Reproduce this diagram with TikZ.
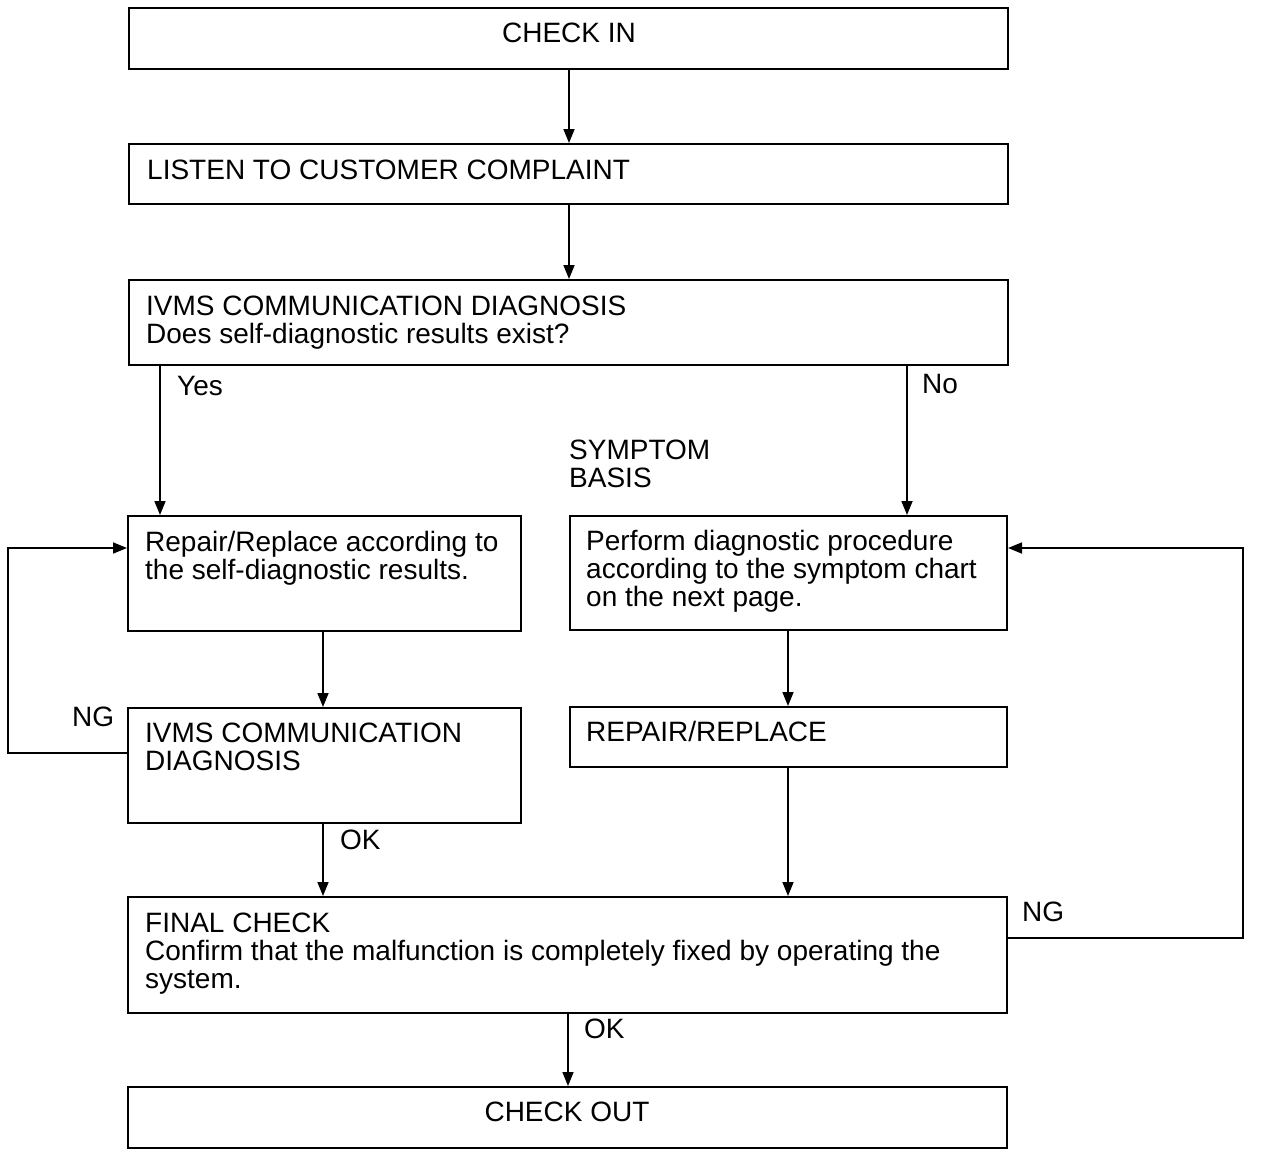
\documentclass[tikz,border=0pt]{standalone}
\usepackage{fontspec}
\setmainfont{Liberation Sans}
\usetikzlibrary{arrows.meta}
\begin{document}
\begin{tikzpicture}[x=1pt,y=-1pt,
  box/.style={draw, line width=2pt, inner sep=0pt, anchor=north west},
  txt/.style={anchor=base west, inner sep=0pt, font=\fontsize{28}{28}\selectfont},
  ctxt/.style={anchor=base, inner sep=0pt, font=\fontsize{28}{28}\selectfont},
  arr/.style={line width=1.7pt, -{Triangle[length=14pt,width=11pt]}},
  ln/.style={line width=1.7pt}]
\useasboundingbox (0,0) rectangle (1264,1156);
% boxes
\node (ci) [box, minimum width=879pt, minimum height=61pt] at (128,7) {};
\node (ls) [box, minimum width=879pt, minimum height=60pt] at (128,143) {};
\node (iv) [box, minimum width=879pt, minimum height=85pt] at (128,279) {};
\node (rr) [box, minimum width=393pt, minimum height=115pt] at (127,515) {};
\node (q2) [box, minimum width=393pt, minimum height=115pt] at (127,707) {};
\node (pf) [box, minimum width=437pt, minimum height=114pt] at (569,515) {};
\node (rp) [box, minimum width=437pt, minimum height=60pt] at (569,706) {};
\node (fc) [box, minimum width=879pt, minimum height=116pt] at (127,896) {};
\node (co) [box, minimum width=879pt, minimum height=61pt] at (127,1086) {};
% texts
\node (t1) [ctxt] at (569,43) {CHECK IN};
\node (t2) [txt] at (147,179) {LISTEN TO CUSTOMER COMPLAINT};
\node (t3a) [txt] at (146,315) {IVMS COMMUNICATION DIAGNOSIS};
\node (t3b) [txt] at (146,343) {Does self-diagnostic results exist?};
\node (t4a) [txt] at (145,551) {Repair/Replace according to};
\node (t4b) [txt] at (145,579) {the self-diagnostic results.};
\node (t5a) [txt] at (145,742) {IVMS COMMUNICATION};
\node (t5b) [txt] at (145,770) {DIAGNOSIS};
\node (t6a) [txt] at (586,550) {Perform diagnostic procedure};
\node (t6b) [txt] at (586,578) {according to the symptom chart};
\node (t6c) [txt] at (586,606) {on the next page.};
\node (t7) [txt] at (586,741) {REPAIR/REPLACE};
\node (t8a) [txt] at (145,932) {FINAL CHECK};
\node (t8b) [txt] at (145,960) {Confirm that the malfunction is completely fixed by operating the};
\node (t8c) [txt] at (145,988) {system.};
\node (t9) [ctxt] at (567,1121) {CHECK OUT};
% labels
\node (lyes) [txt] at (177,395) {Yes};
\node (lno) [txt] at (922,393) {No};
\node (lsy1) [txt] at (569,459) {SYMPTOM};
\node (lsy2) [txt] at (569,487) {BASIS};
\node (lng1) [txt] at (72,726) {NG};
\node (lok1) [txt] at (340,849) {OK};
\node (lng2) [txt] at (1022,921) {NG};
\node (lok2) [txt] at (584,1038) {OK};
% helper coordinates
\coordinate (x569) at (569,0);
\coordinate (x160) at (160,0);
\coordinate (x907) at (907,0);
\coordinate (x323) at (323,0);
\coordinate (x788) at (788,0);
\coordinate (x568) at (568,0);
\coordinate (lA) at (8,753);
\coordinate (lB) at (8,548);
\coordinate (rA) at (1243,938);
\coordinate (rB) at (1243,548);
% connectors
\draw[arr] (ci.south -| x569) -- (ls.north -| x569);
\draw[arr] (ls.south -| x569) -- (iv.north -| x569);
\draw[arr] (iv.south -| x160) -- (rr.north -| x160);
\draw[arr] (iv.south -| x907) -- (pf.north -| x907);
\draw[arr] (rr.south -| x323) -- (q2.north -| x323);
\draw[arr] (q2.south -| x323) -- (fc.north -| x323);
\draw[arr] (pf.south -| x788) -- (rp.north -| x788);
\draw[arr] (rp.south -| x788) -- (fc.north -| x788);
\draw[arr] (fc.south -| x568) -- (co.north -| x568);
\draw[arr] (q2.west |- lA) -- (lA) -- (lB) -- (rr.west |- lB);
\draw[arr] (fc.east |- rA) -- (rA) -- (rB) -- (pf.east |- rB);
\end{tikzpicture}
\end{document}
